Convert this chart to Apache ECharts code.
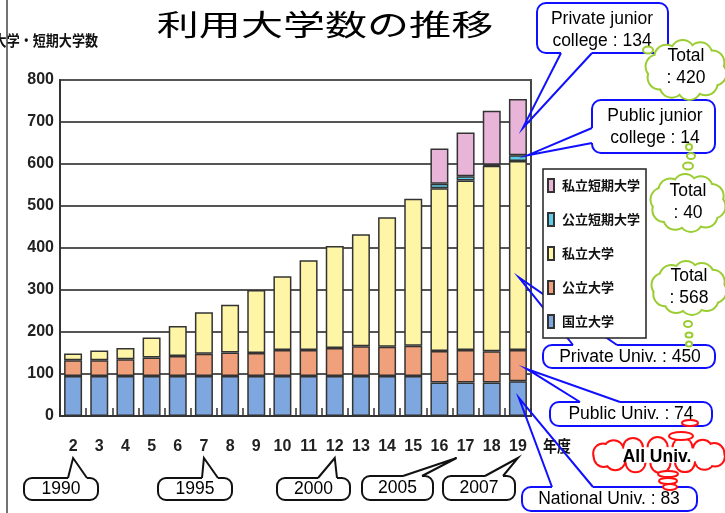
<!DOCTYPE html>
<html>
<head>
<meta charset="utf-8">
<script src="https://cdn.jsdelivr.net/npm/echarts@6/dist/echarts.min.js"></script>
<style>
  html, body { margin: 0; padding: 0; background: #fff; }
  #chart { width: 725px; height: 513px; }
</style>
</head>
<body>
<div id="chart"></div>
<script>
// 年度 (平成)
const years = ['2', '3', '4', '5', '6', '7', '8', '9', '10', '11', '12', '13', '14', '15', '16', '17', '18', '19'];
const national = [95, 95, 95, 95, 95, 95, 95, 95, 95, 95, 95, 95, 95, 95, 80, 80, 80, 83];
const publicUniv = [38, 38, 40, 44, 48, 53, 56, 55, 62, 62, 67, 71, 70, 72, 75, 77, 74, 74];
const privateUniv = [16, 23, 27, 48, 71, 99, 114, 150, 176, 214, 243, 267, 308, 350, 387, 404, 442, 450];
const publicJunior = [null, null, null, null, null, null, null, null, null, null, null, null, null, null, 11, 10, 2, 14];
const privateJunior = [null, null, null, null, null, null, null, null, null, null, null, null, null, null, 84, 104, 129, 134];
const seriesNames = ['国立大学', '公立大学', '私立大学', '公立短期大学', '私立短期大学'];
const legendOrder = ['私立短期大学', '公立短期大学', '私立大学', '公立大学', '国立大学'];
const yearNotes = [['2', '1990'], ['7', '1995'], ['12', '2000'], ['17', '2005'], ['19', '2007']];

const colors = ['#7ea7df', '#f0a07a', '#fff5a6', '#5fcbe8', '#e8b5d8'];
const narrow = '"Liberation Sans Narrow", "Liberation Sans", sans-serif';
const cjk = '"Noto Sans CJK JP", sans-serif';
const latin = '"Liberation Sans", Arial, sans-serif';

const chart = echarts.init(document.getElementById('chart'));
const dataList = [national, publicUniv, privateUniv, publicJunior, privateJunior];

chart.setOption({
  animation: false,
  backgroundColor: '#fff',
  grid: {
    left: 60, right: 194, top: 80, bottom: 97,
    show: true, borderColor: '#444', borderWidth: 2,
  },
  legend: {
    data: legendOrder,
    orient: 'vertical',
    left: 543, top: 169,
    z: 25,
    icon: 'rect',
    itemWidth: 6, itemHeight: 13, itemGap: 19,
    padding: [9, 6, 9, 4],
    backgroundColor: '#fff',
    borderColor: '#222', borderWidth: 1.5,
    textStyle: { fontFamily: cjk, fontWeight: 'bold', fontSize: 13, color: '#111', padding: [0, 0, 0, 3] },
  },
  xAxis: {
    type: 'category',
    data: years,
    axisLine: { lineStyle: { color: '#333', width: 2 } },
    axisTick: { show: true, inside: true, length: 8, lineStyle: { color: '#333', width: 1.5 } },
    axisLabel: { margin: 23, color: '#222', fontFamily: narrow, fontWeight: 'bold', fontSize: 16, interval: 0 },
  },
  yAxis: {
    type: 'value',
    min: 0, max: 800, interval: 100,
    axisLine: { show: true, lineStyle: { color: '#333', width: 2 } },
    axisTick: { show: false },
    splitLine: { lineStyle: { color: '#555', width: 2 } },
    axisLabel: { margin: 6, color: '#222', fontFamily: narrow, fontWeight: 'bold', fontSize: 16 },
  },
  series: seriesNames.map((n, i) => ({
    name: n,
    type: 'bar',
    stack: 'total',
    barWidth: 18,
    data: dataList[i],
    itemStyle: { color: colors[i], borderColor: '#333', borderWidth: 1.5 },
  })),
});

// 吹き出し
const px = (i, v) => chart.convertToPixel({ gridIndex: 0 }, [i, v]);
const last = years.length - 1;

function callout(c) {
  const els = [];
  const [x, y, w, h] = c.box;
  els.push({ type: 'rect', z: 20, shape: { x, y, width: w, height: h, r: c.r || 9 }, style: { fill: '#fff', stroke: c.color, lineWidth: 2 } });
  const [b1, b2] = c.base;
  const d = c.dir; // inward
  const cover = [
    [b1[0] + d[0] * 2.5, b1[1] + d[1] * 2.5], [b1[0] - d[0] * 1.5, b1[1] - d[1] * 1.5],
    [b2[0] - d[0] * 1.5, b2[1] - d[1] * 1.5], [b2[0] + d[0] * 2.5, b2[1] + d[1] * 2.5],
  ];
  els.push({ type: 'polygon', z: 21, shape: { points: cover }, style: { fill: '#fff' } });
  els.push({ type: 'polyline', z: 22, shape: { points: [b1, c.tip, b2] }, style: { stroke: c.color, lineWidth: 2, fill: 'none' } });
  els.push({
    type: 'text', z: 23,
    style: {
      text: c.text, x: c.tx, y: c.ty, font: '17.5px ' + latin, fill: '#000',
      align: 'center', verticalAlign: 'middle', textAlign: 'center', textVerticalAlign: 'middle', lineHeight: 22,
    },
  });
  return els;
}

function cloud(cx, cy, rx, ry, rb, n, color, lw) {
  const els = [];
  const pts = [];
  for (let i = 0; i < n; i++) {
    const t = (Math.PI * 2 * i) / n + 0.2;
    pts.push([cx + (rx - rb) * Math.cos(t), cy + (ry - rb) * Math.sin(t)]);
  }
  pts.forEach((p) => els.push({ type: 'circle', z: 30, shape: { cx: p[0], cy: p[1], r: rb }, style: { fill: '#fff', stroke: color, lineWidth: lw * 2 } }));
  pts.forEach((p) => els.push({ type: 'circle', z: 31, shape: { cx: p[0], cy: p[1], r: rb }, style: { fill: '#fff' } }));
  els.push({ type: 'ellipse', z: 31, shape: { cx, cy, rx: Math.max(rx - rb, 1), ry: Math.max(ry - rb, 1) }, style: { fill: '#fff' } });
  return els;
}

function bubble(cx, cy, rx, ry, color) {
  return { type: 'ellipse', z: 32, shape: { cx, cy, rx, ry }, style: { fill: '#fff', stroke: color, lineWidth: 2 } };
}

function label(text, x, y, bold) {
  return {
    type: 'text', z: 33,
    style: {
      text, x, y, font: (bold ? 'bold ' : '') + '17.5px ' + latin, fill: '#000',
      align: 'center', verticalAlign: 'middle', textAlign: 'center', textVerticalAlign: 'middle', lineHeight: 22,
    },
  };
}

const x19 = px(last, 0)[0];
const blue = '#1010ff';
const green = '#9acd32';
const red = '#ff1010';
let g = [];

g.push({ type: 'line', z: 5, shape: { x1: 7, y1: 0, x2: 7, y2: 513 }, style: { stroke: '#444', lineWidth: 1.5 } });
g.push({
  type: 'text', z: 5, x: 325, y: 25, scaleX: 1.45,
  style: { text: '利用大学数の推移', font: '29px ' + cjk, fill: '#000', align: 'center', verticalAlign: 'middle', textAlign: 'center', textVerticalAlign: 'middle' },
});
g.push({
  type: 'text', z: 5, x: 98, y: 40, scaleX: 0.87,
  style: { text: '大学・短期大学数', font: 'bold 15px ' + cjk, fill: '#111', align: 'right', verticalAlign: 'middle', textAlign: 'right', textVerticalAlign: 'middle' },
});
g.push({
  type: 'text', z: 5, x: 543, y: 446, scaleX: 0.87,
  style: { text: '年度', font: 'bold 16px ' + cjk, fill: '#111', align: 'left', verticalAlign: 'middle', textAlign: 'left', textVerticalAlign: 'middle' },
});

const notes = [
  { text: 'Private junior\ncollege : 134', box: [537, 3, 131, 50], base: [[561, 53], [592, 53]], dir: [0, -1], tip: [x19 + 5, px(last, 686)[1]], tx: 602, ty: 30 },
  { text: 'Public junior\ncollege : 14', box: [592, 100, 123, 53], base: [[592, 128], [592, 143]], dir: [1, 0], tip: [x19 + 10, px(last, 621)[1]], tx: 655, ty: 127 },
  { text: 'Private Univ. : 450', box: [543, 345, 172, 23], base: [[573, 345], [617, 345]], dir: [0, 1], tip: [x19 + 1, px(last, 330)[1]], tx: 630, ty: 357 },
  { text: 'Public Univ. : 74', box: [550, 402, 162, 24], base: [[580, 402], [620, 402]], dir: [0, 1], tip: [x19 + 9, px(last, 112)[1]], tx: 631, ty: 414 },
  { text: 'National Univ. : 83', box: [522, 487, 175, 24], base: [[552, 487], [593, 487]], dir: [0, 1], tip: [x19 + 1, px(last, 43)[1]], tx: 609, ty: 499 },
];
notes.forEach((c) => { c.color = blue; g = g.concat(callout(c)); });

const yearBoxes = [[24, 478, 74, 22, 44, 63, 0], [158, 478, 74, 22, 44, 60, 0], [277, 478, 73, 22, 41, 60, 0], [362, 476, 71, 24, 41, 60, -9], [443, 476, 72, 24, 42, 60, 0]];
yearNotes.forEach((yn, k) => {
  const [bx, by, bw, bh, o1, o2, dx] = yearBoxes[k];
  const tx = px(years.indexOf(yn[0]), 0)[0] + dx;
  g = g.concat(callout({
    text: yn[1], box: [bx, by, bw, bh], base: [[bx + o1, by], [bx + o2, by]], dir: [0, 1],
    tip: [tx, 458], tx: bx + bw / 2, ty: by + bh / 2, color: '#111', r: 8,
  }));
});

// 雲
g = g.concat(cloud(686, 70, 40, 29, 11, 10, green, 2));
g.push(bubble(648, 50, 5, 3.5, green));
g.push(label('Total\n: 420', 686, 67));

g = g.concat(cloud(688, 203, 37, 28, 11, 10, green, 2));
g.push(bubble(689, 147, 3, 3, green), bubble(691, 156, 4, 3, green), bubble(688, 166, 5, 3.5, green));
g.push(label('Total\n: 40', 688, 202));

g = g.concat(cloud(689, 288, 37, 26, 11, 10, green, 2));
g.push(bubble(688, 324, 4, 3, green), bubble(689, 335, 3.5, 2.5, green), bubble(689, 344, 3, 2.5, green));
g.push(label('Total\n: 568', 689, 287));

g = g.concat(cloud(659, 455, 66, 17, 9, 14, red, 2));
g.push(bubble(690, 423, 8, 3, red), bubble(681, 436, 12, 4, red));
g.push(bubble(668, 474, 10, 3, red), bubble(668, 481, 9, 3, red), bubble(670, 487, 7, 3, red));
g.push(label('All Univ.', 657, 457, true));

chart.setOption({ graphic: g });
</script>
</body>
</html>
